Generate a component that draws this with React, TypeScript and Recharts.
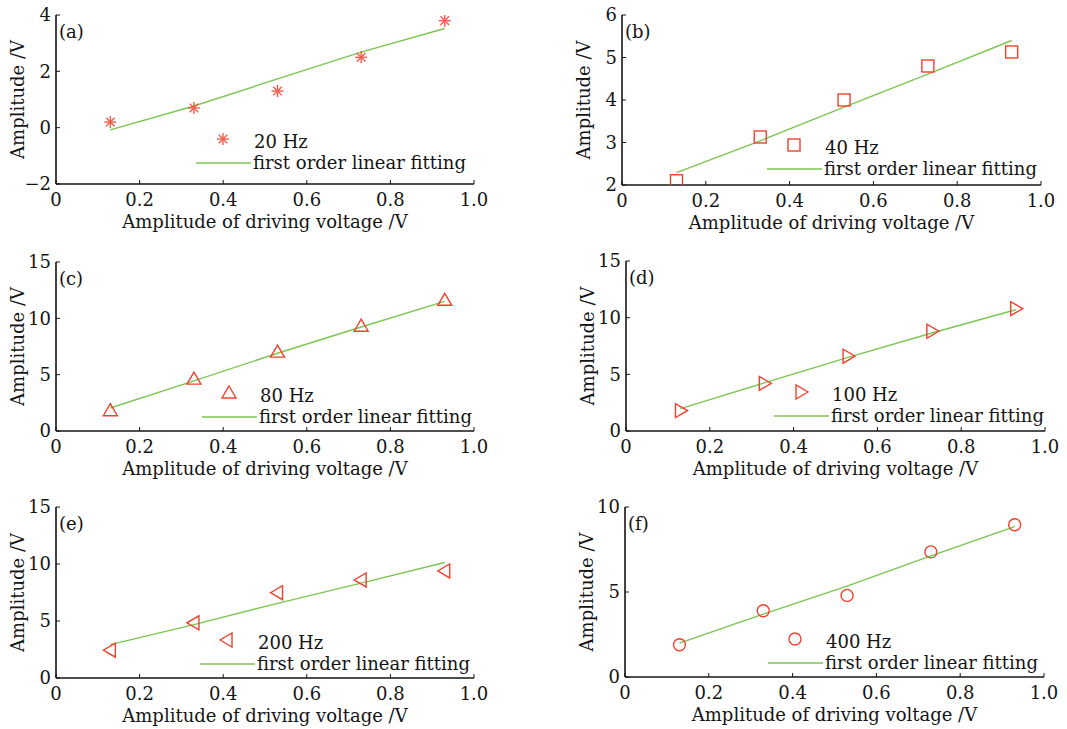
import { ComposedChart, Scatter, Line, XAxis, YAxis, Legend } from 'recharts';

const FONT = '"DejaVu Serif", serif';
const RED = '#f0412f';
const GREEN = '#7cc552';
const INK = '#141414';
const FS = 18;

// driving-voltage amplitudes (V) shared by all panels
const xVoltage = [0.13, 0.33, 0.53, 0.73, 0.93];
const xTicks = [0, 0.2, 0.4, 0.6, 0.8, 1.0];

const amp20Hz = [0.2, 0.7, 1.3, 2.5, 3.8];
const fit20Hz = [-0.08, 0.77, 1.73, 2.68, 3.52];

const amp40Hz = [2.1, 3.13, 4.0, 4.8, 5.13];
const fit40Hz = [2.29, 3.04, 3.83, 4.61, 5.4];

const amp80Hz = [1.8, 4.6, 7.0, 9.3, 11.6];
const fit80Hz = [2.04, 4.45, 6.9, 9.23, 11.5];

const amp100Hz = [1.8, 4.2, 6.6, 8.8, 10.8];
const fit100Hz = [1.98, 4.25, 6.5, 8.65, 10.7];

const amp200Hz = [2.44, 4.84, 7.48, 8.6, 9.39];
const fit200Hz = [2.93, 4.68, 6.55, 8.32, 10.13];

const amp400Hz = [1.9, 3.9, 4.8, 7.36, 8.96];
const fit400Hz = [1.99, 3.7, 5.35, 7.13, 8.85];

const ticksA = [-2, 0, 2, 4];
const ticksB = [2, 3, 4, 5, 6];
const ticks15 = [0, 5, 10, 15];
const ticks10 = [0, 5, 10];

type Kind = 'asterisk' | 'square' | 'triUp' | 'triRight' | 'triLeft' | 'circle';

const toPts = (ys: number[]) => ys.map((y, i) => ({ x: xVoltage[i], y }));

// layout constants (px)
const YW = 56;
const MT = 10;
const MR = 22;
const XH = 60;

type PanelDef = {
  tag: string;
  name: string;
  kind: Kind;
  amp: number[];
  fit: number[];
  yDomain: [number, number];
  yTicks: number[];
  left: number;
  top: number;
  w: number;
  h: number;
  lx: number;
  ly: number;
};

const panels: PanelDef[] = [
  { tag: '(a)', name: '20 Hz', kind: 'asterisk', amp: amp20Hz, fit: fit20Hz, yDomain: [-2, 4], yTicks: ticksA, left: 56, top: 15, w: 418, h: 169, lx: -5, ly: -7 },
  { tag: '(b)', name: '40 Hz', kind: 'square', amp: amp40Hz, fit: fit40Hz, yDomain: [2, 6], yTicks: ticksB, left: 622, top: 15, w: 419, h: 170, lx: 0, ly: -1 },
  { tag: '(c)', name: '80 Hz', kind: 'triUp', amp: amp80Hz, fit: fit80Hz, yDomain: [0, 15], yTicks: ticks15, left: 56, top: 262, w: 418, h: 169, lx: 1, ly: 0 },
  { tag: '(d)', name: '100 Hz', kind: 'triRight', amp: amp100Hz, fit: fit100Hz, yDomain: [0, 15], yTicks: ticks15, left: 626, top: 261, w: 419, h: 170, lx: 3, ly: 0 },
  { tag: '(e)', name: '200 Hz', kind: 'triLeft', amp: amp200Hz, fit: fit200Hz, yDomain: [0, 15], yTicks: ticks15, left: 56, top: 507, w: 418, h: 171, lx: -1, ly: 2 },
  { tag: '(f)', name: '400 Hz', kind: 'circle', amp: amp400Hz, fit: fit400Hz, yDomain: [0, 10], yTicks: ticks10, left: 625, top: 507, w: 419, h: 170, lx: -2, ly: 1 },
];

function Marker({ kind, cx, cy }: { kind: Kind; cx: number; cy: number }) {
  const s = { fill: 'none', stroke: RED, strokeWidth: 1.4 };
  if (kind === 'asterisk') {
    const r = 6;
    const d = r * 0.72;
    return (
      <g stroke={RED} strokeWidth={1.4} opacity={0.85}>
        <line x1={cx - r} y1={cy} x2={cx + r} y2={cy} />
        <line x1={cx} y1={cy - r} x2={cx} y2={cy + r} />
        <line x1={cx - d} y1={cy - d} x2={cx + d} y2={cy + d} />
        <line x1={cx - d} y1={cy + d} x2={cx + d} y2={cy - d} />
      </g>
    );
  }
  if (kind === 'square') return <rect x={cx - 6} y={cy - 6} width={12} height={12} {...s} />;
  if (kind === 'triUp') return <path d={`M${cx},${cy - 7} L${cx + 7},${cy + 5} L${cx - 7},${cy + 5} Z`} {...s} />;
  if (kind === 'triRight') return <path d={`M${cx + 7},${cy} L${cx - 5},${cy + 7} L${cx - 5},${cy - 7} Z`} {...s} />;
  if (kind === 'triLeft') return <path d={`M${cx - 7},${cy} L${cx + 5},${cy + 7} L${cx + 5},${cy - 7} Z`} {...s} />;
  return <circle cx={cx} cy={cy} r={6} {...s} />;
}

const fmtX = (v: number) => (v === 0 ? '0' : v.toFixed(1));
const fmtY = (v: number) => (v < 0 ? '\u2212' + Math.abs(v) : String(v));

function XTick(props: any) {
  const { x, y, payload } = props;
  return (
    <g>
      <line x1={x} y1={y} x2={x} y2={y - 4} stroke={INK} />
      <text x={x} y={y + 16} dy="0.36em" textAnchor="middle" fontFamily={FONT} fontSize={FS} fill={INK}>
        {fmtX(payload.value)}
      </text>
    </g>
  );
}

function YTick(props: any) {
  const { x, y, payload } = props;
  return (
    <g>
      <line x1={x} y1={y} x2={x + 4} y2={y} stroke={INK} />
      <text x={x - 5} y={y} dy="0.36em" textAnchor="end" fontFamily={FONT} fontSize={FS} fill={INK}>
        {fmtY(payload.value)}
      </text>
    </g>
  );
}

function LegendBox({ p, payload }: { p: PanelDef; payload?: any[] }) {
  const items = payload || [];
  const pointName = items.find((e) => e.type !== 'line')?.value ?? p.name;
  const lineName = items.find((e) => e.type === 'line')?.value ?? 'first order linear fitting';
  return (
    <svg width={330} height={52} style={{ overflow: 'visible' }}>
      <Marker kind={p.kind} cx={32} cy={16} />
      <text x={63} y={19} dy="0.36em" fontFamily={FONT} fontSize={FS} fill={INK}>{pointName}</text>
      <line x1={5} y1={40} x2={60} y2={40} stroke={GREEN} strokeWidth={1.4} />
      <text x={62} y={40} dy="0.36em" fontFamily={FONT} fontSize={FS} fill={INK}>{lineName}</text>
    </svg>
  );
}

function Panel({ p }: { p: PanelDef }) {
  const W = YW + p.w + MR;
  const H = MT + p.h + XH;
  return (
    <div style={{ position: 'absolute', left: p.left - YW, top: p.top - MT }}>
      <ComposedChart width={W} height={H} margin={{ top: MT, right: MR, left: 0, bottom: 0 }} style={{ fontFamily: FONT }}>
        <XAxis
          type="number"
          dataKey="x"
          domain={[0, 1]}
          ticks={xTicks}
          allowDataOverflow
          height={XH}
          tickLine={false}
          tickSize={0}
          tickMargin={0}
          axisLine={{ stroke: INK, strokeWidth: 1.6 }}
          tick={<XTick />}
          label={{ value: 'Amplitude of driving voltage /V', position: 'insideBottom', offset: 16, fontSize: FS, fill: INK, fontFamily: FONT }}
        />
        <XAxis xAxisId="top" orientation="top" mirror height={0} type="number" domain={[0, 1]} ticks={xTicks} allowDataOverflow tick={false} tickSize={4} axisLine={{ stroke: '#6a6a6a' }} tickLine={{ stroke: '#6a6a6a' }} />
        <YAxis
          type="number"
          domain={p.yDomain}
          ticks={p.yTicks}
          allowDataOverflow
          width={YW}
          tickLine={false}
          tickSize={0}
          tickMargin={0}
          axisLine={{ stroke: INK, strokeWidth: 1.6 }}
          tick={<YTick />}
          label={{ value: 'Amplitude /V', angle: -90, position: 'insideLeft', offset: 18, fontSize: FS, fill: INK, fontFamily: FONT, style: { textAnchor: 'middle' } }}
        />
        <YAxis yAxisId="right" orientation="right" mirror width={0} type="number" domain={p.yDomain} ticks={p.yTicks} allowDataOverflow tick={false} tickSize={4} axisLine={{ stroke: '#6a6a6a' }} tickLine={{ stroke: '#6a6a6a' }} />
        <Line data={toPts(p.fit)} dataKey="y" name="first order linear fitting" type="linear" stroke={GREEN} strokeWidth={1.4} dot={false} legendType="line" isAnimationActive={false} />
        <Scatter data={toPts(p.amp)} dataKey="y" name={p.name} legendType="square" isAnimationActive={false} shape={(s: any) => <Marker kind={p.kind} cx={s.cx} cy={s.cy} />} />
        <Legend
          layout="vertical"
          align="center"
          verticalAlign="middle"
          wrapperStyle={{ left: YW + 140 + p.lx, top: MT + 115 + p.ly, width: 330, height: 52 }}
          content={(lp: any) => <LegendBox p={p} payload={lp.payload} />}
        />
      </ComposedChart>
      <div style={{ position: 'absolute', left: YW + 3, top: MT + 6, fontFamily: FONT, fontSize: FS, color: INK, lineHeight: '22px' }}>
        {p.tag}
      </div>
    </div>
  );
}

export default function App() {
  return (
    <div style={{ position: 'absolute', left: 0, top: 0, width: 1067, height: 729, background: '#fff' }}>
      {panels.map((p) => (
        <Panel key={p.tag} p={p} />
      ))}
    </div>
  );
}
